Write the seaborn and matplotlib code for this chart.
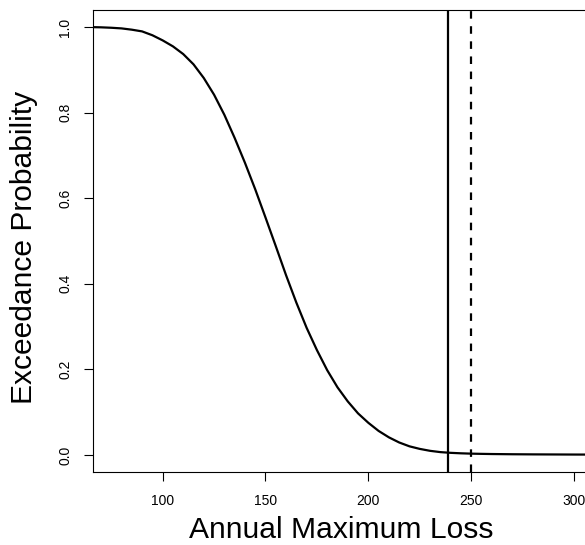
import numpy as np
import pandas as pd
import matplotlib
matplotlib.use("Agg")
import matplotlib.pyplot as plt
import seaborn as sns

# Exceedance curve of the annual maximum loss
loss = [65, 70, 75, 80, 85, 90, 95, 100, 105, 110, 115, 120, 125, 130, 135,
        140, 145, 150, 155, 160, 165, 170, 175, 180, 185, 190, 195, 200, 205,
        210, 215, 220, 225, 230, 235, 240, 245, 250, 255, 260, 270, 280, 290,
        300, 310, 320]
exceedance = [1.000, 0.9995, 0.9985, 0.997, 0.994, 0.990, 0.981, 0.969, 0.955,
              0.937, 0.913, 0.881, 0.842, 0.795, 0.741, 0.683, 0.621, 0.555,
              0.488, 0.420, 0.356, 0.297, 0.245, 0.198, 0.158, 0.125, 0.097,
              0.075, 0.056, 0.041, 0.029, 0.020, 0.014, 0.0095, 0.0065, 0.0048,
              0.0037, 0.0029, 0.0024, 0.0020, 0.0015, 0.0012, 0.0010, 0.0008,
              0.0007, 0.0006]

# Reference levels drawn as vertical lines
var_level = 238.7
threshold = 250

x_ticks = [100, 150, 200, 250, 300]
y_ticks = [0.0, 0.2, 0.4, 0.6, 0.8, 1.0]
y_tick_labels = ["0.0", "0.2", "0.4", "0.6", "0.8", "1.0"]

df = pd.DataFrame({"loss": loss, "exceedance": exceedance})

sns.set_style("ticks")
plt.rcParams["font.family"] = ["Liberation Sans", "DejaVu Sans"]
plt.rcParams["text.color"] = "black"
plt.rcParams["axes.labelcolor"] = "black"
plt.rcParams["xtick.color"] = "black"
plt.rcParams["ytick.color"] = "black"

W, H = 585, 545
fig = plt.figure(figsize=(W / 100, H / 100), dpi=100)

x_lo, x_hi = 66.0, 320.0
px_per_unit = 2.057
ax_left = 92.7
ax_bottom = 472.0
ax_top = 10.0
ax_w = (x_hi - x_lo) * px_per_unit
ax_h = ax_bottom - ax_top
ax = fig.add_axes([ax_left / W, (H - ax_bottom) / H, ax_w / W, ax_h / H])

sns.lineplot(data=df, x="loss", y="exceedance", ax=ax, color="black",
             linewidth=1.6, estimator=None, sort=True)
ax.axvline(var_level, color="black", linewidth=1.6)
ax.axvline(threshold, color="black", linewidth=1.6, linestyle=(0, (3.4, 3.4)))

ax.set_xlim(x_lo, x_hi)
ax.set_ylim(-0.04, 1.04)
ax.set_xticks(x_ticks)
ax.set_xticklabels([str(t) for t in x_ticks], fontsize=10)
ax.set_yticks(y_ticks)
ax.set_yticklabels(y_tick_labels, fontsize=10, rotation=90, va="center")

ax.tick_params(axis="both", direction="out", length=6.7, width=0.8,
               color="black", labelcolor="black")
ax.tick_params(axis="x", pad=9)
ax.tick_params(axis="y", pad=8)

for side in ["left", "right", "top", "bottom"]:
    ax.spines[side].set_color("black")
    ax.spines[side].set_linewidth(0.8)

ax.set_xlabel("Annual Maximum Loss", fontsize=21.6, color="black")
ax.set_ylabel("Exceedance Probability", fontsize=21.6, color="black")
ax.xaxis.set_label_coords((341 - ax_left) / ax_w, (ax_bottom - 515.5) / ax_h)
ax.yaxis.set_label_coords((38 - ax_left) / ax_w, (ax_bottom - 247.5) / ax_h)

fig.savefig("out.png", dpi=100)
